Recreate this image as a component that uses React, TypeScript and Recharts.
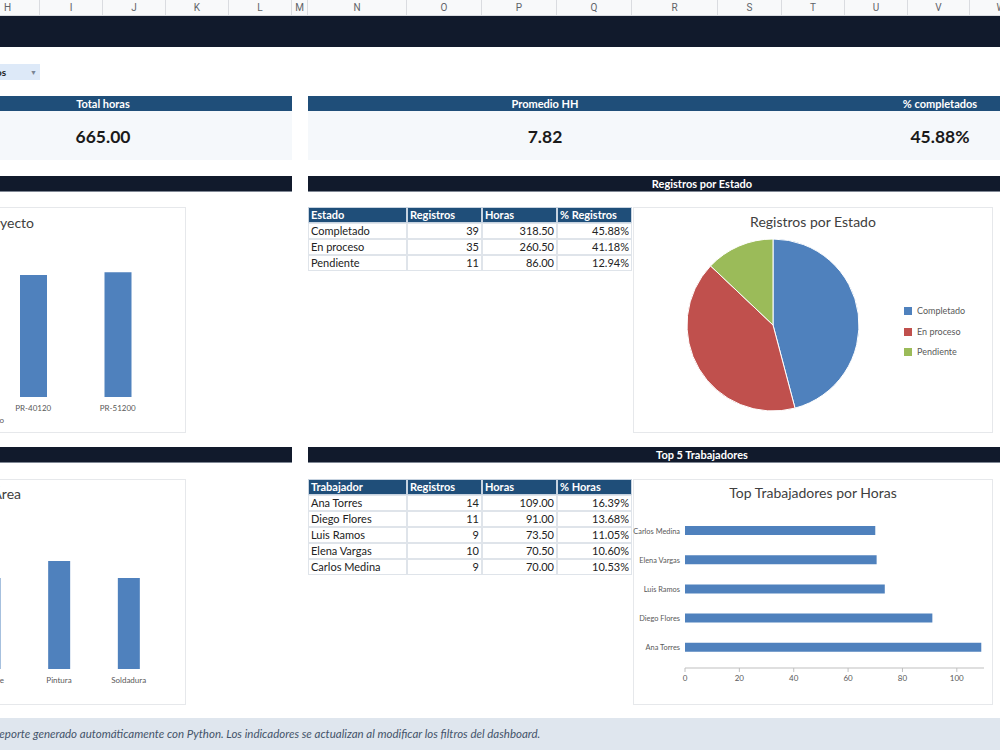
import {
  BarChart,
  Bar,
  XAxis,
  YAxis,
  PieChart,
  Pie,
  Cell,
  Legend,
} from 'recharts';

const COLUMN_LETTERS = ['H', 'I', 'J', 'K', 'L', 'M', 'N', 'O', 'P', 'Q', 'R', 'S', 'T', 'U', 'V', 'W'];
const COLUMN_EDGES = [-24, 40, 103, 166, 229, 292, 308, 407, 482, 557, 632, 718, 782, 845, 908, 970, 1033];

const kpiLabels = ['Total horas', 'Promedio HH', '% completados'];
const kpiValues = ['665.00', '7.82', '45.88%'];

const estados = ['Completado', 'En proceso', 'Pendiente'];
const estadoRegistros = [39, 35, 11];
const estadoHoras = [318.5, 260.5, 86];
const estadoPct = [45.88, 41.18, 12.94];

const trabajadores = ['Ana Torres', 'Diego Flores', 'Luis Ramos', 'Elena Vargas', 'Carlos Medina'];
const trabRegistros = [14, 11, 9, 10, 9];
const trabHoras = [109, 91, 73.5, 70.5, 70];
const trabPct = [16.39, 13.68, 11.05, 10.6, 10.53];

const proyectos = ['PR-40120', 'PR-51200'];
const proyectoHoras = [152.5, 156];

const areas = ['Montaje', 'Pintura', 'Soldadura'];
const areaHoras = [136.5, 162, 136.5];

const PIE_COLORS = ['#4f81bd', '#c0504d', '#9bbb59'];
const BAR_COLOR = '#4f81bd';
const NAVY = '#111a2c';
const HEADER_BLUE = '#1f4e79';
const FONT = 'Lato, "Open Sans", sans-serif';

const estadoData = estados.map((name, i) => ({ name, value: estadoRegistros[i] }));
const topData = trabajadores.map((name, i) => ({ name, horas: trabHoras[i] })).reverse();
const proyectoData = proyectos.map((name, i) => ({ name, horas: proyectoHoras[i] }));
const areaData = areas.map((name, i) => ({ name, horas: areaHoras[i] }));

const abs = (left: number, top: number, width: number, height: number, extra: any = {}) => ({
  position: 'absolute' as const,
  left,
  top,
  width,
  height,
  ...extra,
});

function ColumnHeader() {
  return (
    <div style={abs(0, 0, 1000, 16, { background: '#f8f9fa', borderBottom: '1px solid #dadce0', boxSizing: 'border-box' })}>
      {COLUMN_LETTERS.map((l, i) => (
        <div
          key={l}
          style={abs(COLUMN_EDGES[i], 0, COLUMN_EDGES[i + 1] - COLUMN_EDGES[i], 15, {
            borderRight: '1px solid #dadce0',
            boxSizing: 'border-box',
            textAlign: 'center',
            fontFamily: 'Roboto, Arial, sans-serif',
            fontSize: 10,
            lineHeight: '15px',
            color: '#5f6368',
          })}
        >
          {l}
        </div>
      ))}
    </div>
  );
}

function SectionBar({ left, top, width, label }: { left: number; top: number; width: number; label?: string }) {
  return (
    <div
      style={abs(left, top, width, 16, {
        background: NAVY,
        borderBottom: '1px solid #7f8794',
        boxSizing: 'border-box',
        color: '#fff',
        fontFamily: FONT,
        fontWeight: 700,
        fontSize: 11,
        lineHeight: '16px',
      })}
    >
      {label && <div style={abs(702 - left - 100, 0, 200, 16, { textAlign: 'center' })}>{label}</div>}
    </div>
  );
}

function Table({
  top,
  headers,
  names,
  a,
  b,
  c,
}: {
  top: number;
  headers: string[];
  names: string[];
  a: number[];
  b: number[];
  c: number[];
}) {
  const widths = [99, 75, 75, 75];
  const lefts = [308, 407, 482, 557];
  const cell = (x: number, y: number, w: number, head: boolean, align: string) => ({
    ...abs(x, y, w, 16, {
      boxSizing: 'border-box',
      border: head ? '1px solid #c7d3e0' : '1px solid #dfe4ea',
      background: head ? HEADER_BLUE : '#fff',
      color: head ? '#fff' : '#222',
      fontWeight: head ? 700 : 400,
      fontFamily: FONT,
      fontSize: 11,
      lineHeight: '14px',
      padding: '0 2px',
      textAlign: align,
      whiteSpace: 'nowrap',
      overflow: 'hidden',
    }),
  });
  return (
    <>
      {headers.map((h, i) => (
        <div key={h} style={cell(lefts[i], top, widths[i], true, 'left')}>
          {h}
        </div>
      ))}
      {names.map((n, r) => {
        const y = top + 16 * (r + 1);
        return (
          <div key={n}>
            <div style={cell(lefts[0], y, widths[0], false, 'left')}>{n}</div>
            <div style={cell(lefts[1], y, widths[1], false, 'right')}>{a[r]}</div>
            <div style={cell(lefts[2], y, widths[2], false, 'right')}>{b[r].toFixed(2)}</div>
            <div style={cell(lefts[3], y, widths[3], false, 'right')}>{c[r].toFixed(2)}%</div>
          </div>
        );
      })}
    </>
  );
}

const chartBox = (left: number, top: number) =>
  abs(left, top, 360, 226, { background: '#fff', border: '1px solid #e6e8eb', boxSizing: 'border-box' });

const chartTitle = { fontFamily: FONT, fontSize: 14, color: '#404040' };

function PieLegend() {
  return (
    <div style={{ fontFamily: FONT, fontSize: 9, color: '#595959' }}>
      {estados.map((e, i) => (
        <div key={e} style={{ position: 'relative', height: 20.5, lineHeight: '10px' }}>
          <span style={abs(0, 0, 8, 8, { background: PIE_COLORS[i] })} />
          <span style={{ position: 'absolute', left: 13, top: -1 }}>{e}</span>
        </div>
      ))}
    </div>
  );
}

function NameTick(props: any) {
  return (
    <text x={props.x} y={props.y} dy={3} textAnchor="end" fontSize={7.4} fill="#595959" fontFamily={FONT}>
      {props.payload.value}
    </text>
  );
}

export default function App() {
  const tick8 = { fontSize: 8, fill: '#595959', fontFamily: FONT };
  return (
    <div style={{ position: 'fixed', left: 0, top: 0, width: 1000, height: 750, overflow: 'hidden', background: '#fff' }}>
      <ColumnHeader />
      <div style={abs(0, 16, 1000, 31, { background: NAVY })} />

      {/* filter dropdown */}
      <div style={abs(0, 64, 40, 16, { background: '#dde9f8', fontFamily: FONT, fontSize: 10, fontWeight: 700, color: '#1a1a1a', lineHeight: '16px' })}>
        <span style={{ position: 'absolute', left: -4 }}>os</span>
        <span style={{ position: 'absolute', left: 30, fontSize: 7, color: '#7a8594' }}>▼</span>
      </div>

      {/* KPI blocks */}
      <div style={abs(0, 96, 292, 15, { background: HEADER_BLUE })} />
      <div style={abs(308, 96, 692, 15, { background: HEADER_BLUE })} />
      <div style={abs(0, 111, 292, 49, { background: '#f5f8fb' })} />
      <div style={abs(308, 111, 692, 49, { background: '#f5f8fb' })} />
      {[103, 545, 940].map((cx, i) => (
        <div key={i}>
          <div style={abs(cx - 80, 96, 160, 15, { textAlign: 'center', color: '#fff', fontFamily: FONT, fontWeight: 700, fontSize: 11, lineHeight: '16px' })}>
            {kpiLabels[i]}
          </div>
          <div style={abs(cx - 80, 124, 160, 26, { textAlign: 'center', color: '#1a1a1a', fontFamily: FONT, fontWeight: 700, fontSize: 17.5, lineHeight: '26px' })}>
            {kpiValues[i]}
          </div>
        </div>
      ))}

      <SectionBar left={0} top={176} width={292} />
      <SectionBar left={308} top={176} width={692} label="Registros por Estado" />
      <SectionBar left={0} top={447} width={292} />
      <SectionBar left={308} top={447} width={692} label="Top 5 Trabajadores" />

      {/* Horas por proyecto (clipped) */}
      <div style={chartBox(-174, 207)}>
        <div style={abs(-30, 3, 237, 24, { ...chartTitle, textAlign: 'right', lineHeight: '24px' })}>Horas por Proyecto</div>
        <div style={abs(-30, 207, 207, 12, { textAlign: 'right', fontFamily: FONT, fontSize: 8, color: '#595959' })}>Proyecto</div>
        <BarChart width={360} height={226} data={proyectoData} margin={{ top: 29, right: 27, bottom: 0, left: 164 }}>
          <XAxis dataKey="name" height={37} axisLine={false} tickLine={false} tick={tick8} interval={0} />
          <YAxis hide domain={[0, 200]} />
          <Bar dataKey="horas" fill={BAR_COLOR} barSize={27} isAnimationActive={false} />
        </BarChart>
      </div>

      {/* Horas por area (clipped) */}
      <div style={chartBox(-174, 479)}>
        <div style={abs(-30, 2, 224, 24, { ...chartTitle, textAlign: 'right', lineHeight: '24px' })}>Horas por Área</div>
        <BarChart width={360} height={226} data={areaData} margin={{ top: 29, right: 23.5, bottom: 0, left: 127.5 }}>
          <XAxis dataKey="name" height={37} axisLine={false} tickLine={false} tick={tick8} interval={0} />
          <YAxis hide domain={[0, 240]} />
          <Bar dataKey="horas" fill={BAR_COLOR} barSize={22} isAnimationActive={false} />
        </BarChart>
      </div>

      <Table top={207} headers={['Estado', 'Registros', 'Horas', '% Registros']} names={estados} a={estadoRegistros} b={estadoHoras} c={estadoPct} />
      <Table top={479} headers={['Trabajador', 'Registros', 'Horas', '% Horas']} names={trabajadores} a={trabRegistros} b={trabHoras} c={trabPct} />

      {/* Registros por estado pie */}
      <div style={chartBox(633, 207)}>
        <div style={abs(0, 2, 358, 24, { ...chartTitle, textAlign: 'center', lineHeight: '24px', left: 0 })}>Registros por Estado</div>
        <div style={abs(-1, -1, 360, 226)}>
          <PieChart width={360} height={226} margin={{ top: 0, right: 0, bottom: 0, left: 0 }}>
            <Pie
              data={estadoData}
              dataKey="value"
              nameKey="name"
              cx={140}
              cy={118}
              outerRadius={86}
              startAngle={90}
              endAngle={-270}
              stroke="#fff"
              strokeWidth={1}
              isAnimationActive={false}
            >
              {estadoData.map((d, i) => (
                <Cell key={d.name} fill={PIE_COLORS[i]} />
              ))}
            </Pie>
            <Legend content={<PieLegend />} wrapperStyle={{ left: 271, top: 100, width: 80 }} />
          </PieChart>
        </div>
      </div>

      {/* Top trabajadores bar */}
      <div style={chartBox(633, 479)}>
        <div style={abs(0, 1, 358, 24, { ...chartTitle, textAlign: 'center', lineHeight: '24px' })}>Top Trabajadores por Horas</div>
        <div style={abs(-1, -1, 360, 226)}>
          <BarChart width={360} height={226} data={topData} layout="vertical" margin={{ top: 37, right: 9, bottom: 0, left: 0 }}>
            <XAxis
              type="number"
              domain={[0, 110]}
              ticks={[0, 20, 40, 60, 80, 100]}
              height={37}
              tick={tick8}
              tickSize={4}
              tickMargin={3}
              stroke="#bfbfbf"
            />
            <YAxis
              type="category"
              dataKey="name"
              width={52}
              axisLine={false}
              tickLine={false}
              tickSize={4}
              tickMargin={1}
              tick={<NameTick />}
              interval={0}
              padding={{ top: 0, bottom: 6 }}
            />
            <Bar dataKey="horas" fill={BAR_COLOR} barSize={9} isAnimationActive={false} />
          </BarChart>
        </div>
      </div>

      {/* footer */}
      <div style={abs(0, 718, 1000, 32, { background: '#dfe6ee' })}>
        <div style={{ position: 'absolute', left: -7, top: 9, fontFamily: FONT, fontStyle: 'italic', fontSize: 11.5, color: '#44546a', whiteSpace: 'nowrap' }}>
          Reporte generado automáticamente con Python. Los indicadores se actualizan al modificar los filtros del dashboard.
        </div>
      </div>
    </div>
  );
}
